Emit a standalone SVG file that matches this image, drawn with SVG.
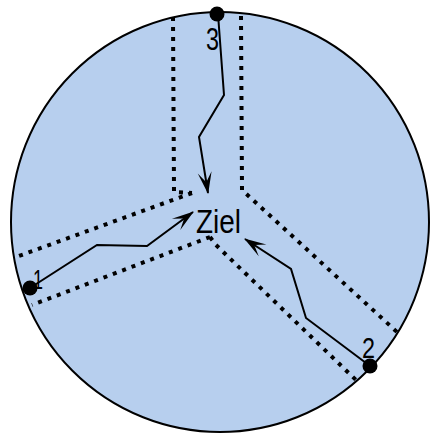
<svg xmlns="http://www.w3.org/2000/svg" width="431" height="433" viewBox="0 0 431 433">
<style>
.dot{fill:none;stroke:#000;stroke-width:4;stroke-dasharray:4 6}
.path{fill:none;stroke:#000;stroke-width:2;marker-end:url(#arr)}
.lbl{font-family:"Liberation Sans",Arial,sans-serif;fill:#000}
</style>
<defs>
<marker id="arr" viewBox="0 0 22 14" refX="21" refY="7" markerWidth="22" markerHeight="14" orient="auto" markerUnits="userSpaceOnUse" overflow="visible">
<path d="M0,0 L22,7 L0,14 L10,7 Z" fill="#000"/>
</marker>
</defs>
<g id="field">
<ellipse cx="220" cy="222" rx="209" ry="210" fill="#b7cfee" stroke="#000" stroke-width="2"/>
</g>
<g id="corridors">
<path class="dot" d="M173,17 L174,192 L192,193"/>
<path class="dot" d="M192,193 L16,257"/>
<path class="dot" d="M210,237 L32,305"/>
<path class="dot" d="M241,16 L242,190 L397,332"/>
<path class="dot" d="M210,237 L216,245 L356,380"/>
</g>
<g id="connectors">
<path class="path" d="M218,14 L224,95 L199,137 L208,193"/>
<path class="path" d="M30,288 L97,245 L147,246 L193,212"/>
<path class="path" d="M370,366 L306,318 L291,269 L245,239"/>
</g>
<g id="start1"><circle cx="30" cy="288" r="7.5" fill="#000"/><text class="lbl" x="33" y="289" font-size="27" textLength="10" lengthAdjust="spacingAndGlyphs">1</text></g>
<g id="start2"><circle cx="370" cy="366" r="7.5" fill="#000"/><text class="lbl" x="362" y="358" font-size="29" textLength="13" lengthAdjust="spacingAndGlyphs">2</text></g>
<g id="start3"><circle cx="217" cy="14" r="7.5" fill="#000"/><text class="lbl" x="206" y="50" font-size="31" textLength="13" lengthAdjust="spacingAndGlyphs">3</text></g>
<g id="ziel"><text class="lbl" x="196" y="233" font-size="34" textLength="45" lengthAdjust="spacingAndGlyphs">Ziel</text></g>
</svg>
